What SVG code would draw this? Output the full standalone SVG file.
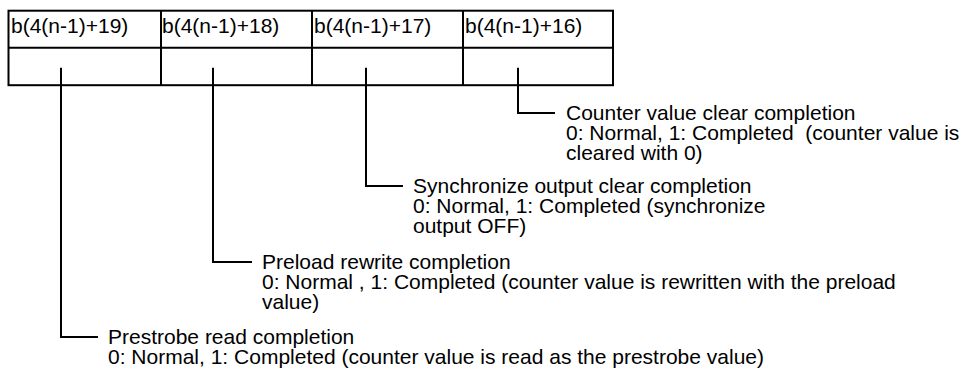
<svg xmlns="http://www.w3.org/2000/svg" width="967" height="375" viewBox="0 0 967 375">
<style>
.t{font-family:"Liberation Sans",Arial,sans-serif;font-size:21px;fill:#000}
.b{fill:none;stroke:#000;stroke-width:2}
.c{fill:none;stroke:#000;stroke-width:2}
</style>
<rect width="967" height="375" fill="#fff"/>
<g id="register">
<rect class="b" x="8.5" y="10.7" width="604.5" height="74.5"/>
<line class="b" x1="8.5" y1="47.7" x2="613" y2="47.7"/>
<line class="b" x1="161" y1="10.7" x2="161" y2="85.2"/>
<line class="b" x1="312" y1="10.7" x2="312" y2="85.2"/>
<line class="b" x1="463" y1="10.7" x2="463" y2="85.2"/>
<text class="t" x="11" y="33">b(4(n-1)+19)</text>
<text class="t" x="162" y="33">b(4(n-1)+18)</text>
<text class="t" x="314" y="33">b(4(n-1)+17)</text>
<text class="t" x="465" y="33">b(4(n-1)+16)</text>
</g>
<g id="connectors">
<polyline class="c" points="518,67.7 518,113 555,113"/>
<polyline class="c" points="366,67.7 366,186 403,186"/>
<polyline class="c" points="213,67.7 213,262 252,262"/>
<polyline class="c" points="61,67.7 61,337 98,337"/>
</g>
<g id="bit16">
<text class="t" xml:space="preserve"><tspan x="566" y="120">Counter value clear completion</tspan><tspan x="566" y="140">0: Normal, 1: Completed  (counter value is</tspan><tspan x="566" y="160">cleared with 0)</tspan></text>
</g>
<g id="bit17">
<text class="t"><tspan x="413" y="193">Synchronize output clear completion</tspan><tspan x="413" y="213">0: Normal, 1: Completed (synchronize</tspan><tspan x="413" y="233">output OFF)</tspan></text>
</g>
<g id="bit18">
<text class="t"><tspan x="262" y="269">Preload rewrite completion</tspan><tspan x="262" y="289">0: Normal , 1: Completed (counter value is rewritten with the preload</tspan><tspan x="262" y="309">value)</tspan></text>
</g>
<g id="bit19">
<text class="t"><tspan x="108" y="344">Prestrobe read completion</tspan><tspan x="108" y="364">0: Normal, 1: Completed (counter value is read as the prestrobe value)</tspan></text>
</g>
</svg>
